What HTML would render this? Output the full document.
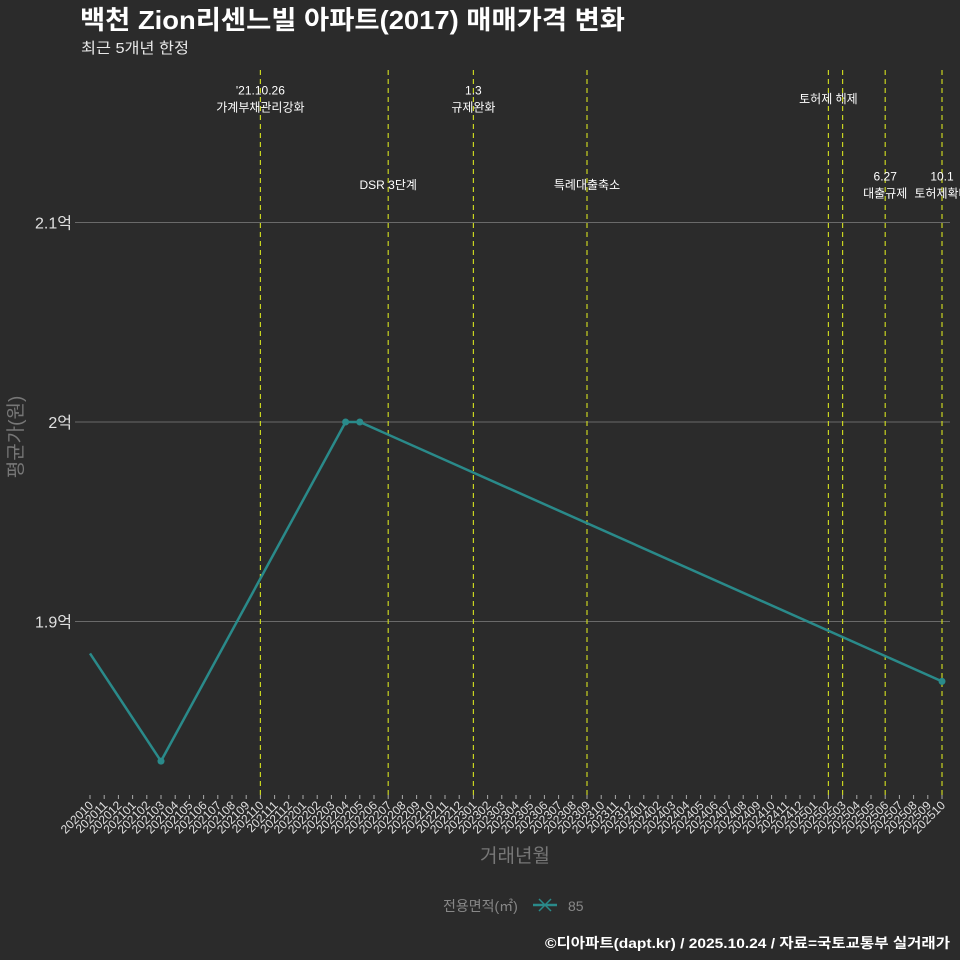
<!DOCTYPE html>
<html><head><meta charset="utf-8"><style>
html,body{margin:0;background:#2b2b2b;overflow:hidden;}
svg{display:block;}
svg text{font-family:"Liberation Sans","Noto Sans CJK KR",sans-serif;}
</style></head><body>
<svg id="chart" width="960" height="960" xmlns="http://www.w3.org/2000/svg">
<rect width="960" height="960" fill="#2b2b2b"/>
<text x="80" y="29" font-size="26" font-weight="bold" fill="#ffffff" textLength="545" lengthAdjust="spacingAndGlyphs">백천 Zion리센느빌 아파트(2017) 매매가격 변화</text>
<text x="81" y="53" font-size="15" fill="#e8e8e8" textLength="108" lengthAdjust="spacingAndGlyphs">최근 5개년 한정</text>
<g id="grid"></g><g id="events"></g><g id="series"></g><g id="xaxis"></g>
<text transform="translate(22,437) rotate(-90)" text-anchor="middle" font-size="19" fill="#777">평균가(원)</text>
<text x="515" y="862" text-anchor="middle" font-size="19" fill="#777">거래년월</text>
<g>
<text x="443" y="911" font-size="14" fill="#888">전용면적(㎡)</text>
<g>
<line x1="533" y1="905" x2="557" y2="905" stroke="#2a8a8a" stroke-width="2.5"/>
<line x1="539" y1="899" x2="551" y2="911" stroke="#2a8a8a" stroke-width="1.5"/>
<line x1="539" y1="911" x2="551" y2="899" stroke="#2a8a8a" stroke-width="1.5"/>
<text x="568" y="911" font-size="14" fill="#888">85</text></g>
</g>
<text x="950" y="948" text-anchor="end" font-size="14" font-weight="bold" fill="#ffffff" textLength="405" lengthAdjust="spacingAndGlyphs">©디아파트(dapt.kr) / 2025.10.24 / 자료=국토교통부 실거래가</text>
</svg>
<script>
const months=[];for(let y=2020,m=10;;){months.push(y+String(m).padStart(2,'0'));if(y===2025&&m===10)break;m++;if(m>12){m=1;y++;}}
const pointMonths=['202010','202103','202204','202205','202510'];
const pointValues=[1.884,1.830,2.0,2.0,1.870];
const showMarker=[false,true,true,true,true];
const yTicks=[1.9,2.0,2.1];
const yTickLabels=['1.9억','2억','2.1억'];
const eventMonths=['202110','202207','202301','202309','202502','202503','202506','202510'];
const eventLabels=[["'21.10.26","가계부채관리강화"],["DSR 3단계"],["1.3","규제완화"],["특례대출축소"],["토허제 해제"],[],["6.27","대출규제"],["10.1","토허제확대"]];
const eventRow=[0,1,0,1,0,0,1,1];
const NS='http://www.w3.org/2000/svg';
function X(m){return 90+months.indexOf(m)*(852/(months.length-1));}
function Y(v){return 422-(v-2.0)*1995;}
function el(t,a,p){const e=document.createElementNS(NS,t);for(const k in a)e.setAttribute(k,a[k]);p.appendChild(e);return e;}
const grid=document.getElementById('grid');
yTicks.forEach((v,i)=>{
 const l=el('line',{x1:75,x2:950,y1:Y(v),y2:Y(v),stroke:'#6a6a6a','stroke-width':1},grid);
 
 
 const t=el('text',{x:72,y:Y(v)+6,'text-anchor':'end','font-size':16,fill:'#e0e0e0'},grid);
 
 
 t.textContent=yTickLabels[i];
});
const ev=document.getElementById('events');
eventMonths.forEach((m,i)=>{
 const x=X(m);
 const l=el('line',{x1:x,x2:x,y1:70,y2:797,stroke:'#c8d420','stroke-width':1.2,'stroke-dasharray':'5,4'},ev);
 
 
 const lines=eventLabels[i];
 const cy=eventRow[i]?185:99;
 lines.forEach((s,j)=>{
  const t=el('text',{x:x,y:cy+4+(j-(lines.length-1)/2)*17,'text-anchor':'middle','font-size':12,fill:'#ffffff'},ev);
  
  
  t.textContent=s;
 });
});
const sg=document.getElementById('series');
const pts=pointMonths.map((m,i)=>X(m)+','+Y(pointValues[i])).join(' ');
const pl=el('polyline',{points:pts,fill:'none',stroke:'#2a8a8a','stroke-width':2.5},sg);


pointMonths.forEach((m,i)=>{if(!showMarker[i])return;
 const c=el('circle',{cx:X(m),cy:Y(pointValues[i]),r:3.5,fill:'#2a8a8a'},sg);
 
 
});
const xa=document.getElementById('xaxis');
months.forEach(m=>{const x=X(m);
 const tk=el('line',{x1:x,x2:x,y1:795,y2:799,stroke:'#aaa','stroke-width':1},xa);
 
 
 const t=el('text',{x:0,y:0,'text-anchor':'end','font-size':12,fill:'#e0e0e0',transform:`translate(${x+4},${806}) rotate(-45)`},xa);
 
 
 t.textContent=m;
});
</script>
</body></html>
